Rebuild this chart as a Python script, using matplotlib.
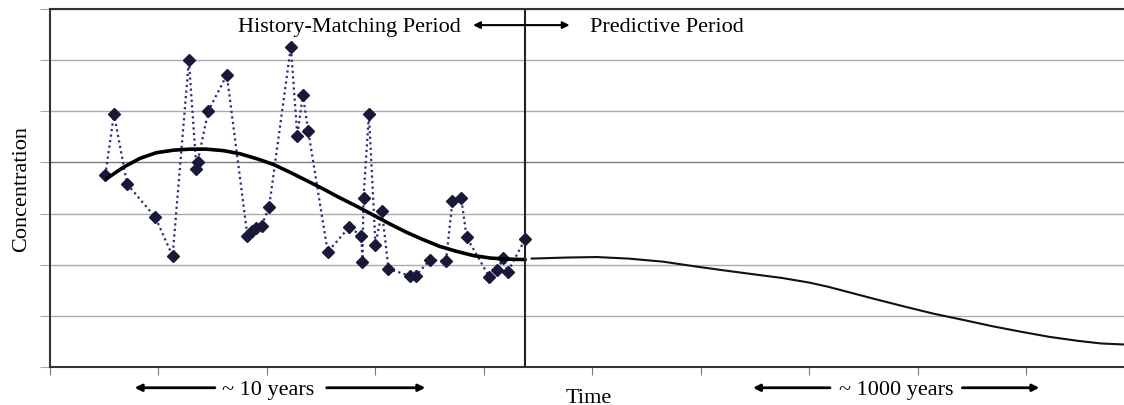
import numpy as np
import matplotlib.pyplot as plt

# measured concentrations (history-matching period)
obs_t = [0.51, 0.59, 0.71, 0.97, 1.13, 1.28, 1.35, 1.36, 1.46, 1.63,
         1.82, 1.86, 1.90, 1.95, 2.02, 2.22, 2.28, 2.33, 2.38, 2.56,
         2.76, 2.87, 2.88, 2.89, 2.94, 3.00, 3.06, 3.12, 3.32, 3.37,
         3.50, 3.65, 3.71, 3.79, 3.84, 4.05, 4.12, 4.18, 4.22, 4.38]
obs_c = [3.75, 4.95, 3.58, 2.93, 2.17, 6.00, 3.87, 4.01, 5.01, 5.71,
         2.56, 2.66, 2.72, 2.76, 3.13, 6.26, 4.52, 5.32, 4.62, 2.25,
         2.74, 2.56, 2.05, 3.31, 4.95, 2.39, 3.05, 1.92, 1.78, 1.78,
         2.09, 2.07, 3.25, 3.31, 2.54, 1.76, 1.90, 2.13, 1.86, 2.50]

# fitted model over history period
fit_t = [0.52, 0.68, 0.83, 0.98, 1.14, 1.29, 1.44, 1.60, 1.75, 1.91, 2.06, 2.21, 2.37,
         2.52, 2.67, 2.83, 2.98, 3.13, 3.29, 3.44, 3.59, 3.75, 3.90, 4.06, 4.21, 4.38]
fit_c = [3.68, 3.91, 4.08, 4.19, 4.24, 4.26, 4.26, 4.23, 4.17, 4.07, 3.96, 3.81, 3.64,
         3.48, 3.31, 3.14, 2.97, 2.80, 2.63, 2.49, 2.36, 2.26, 2.18, 2.13, 2.11, 2.10]

# model prediction
pred_t = [4.44, 4.76, 5.04, 5.33, 5.65, 5.97, 6.21, 6.46, 6.75, 7.00, 7.17,
          7.35, 7.62, 7.88, 8.15, 8.42, 8.68, 8.95, 9.21, 9.48, 9.69, 9.90]
pred_c = [2.12, 2.14, 2.15, 2.12, 2.06, 1.96, 1.89, 1.82, 1.74, 1.65, 1.57,
          1.47, 1.32, 1.18, 1.04, 0.92, 0.80, 0.69, 0.59, 0.51, 0.46, 0.44]

split_t = 4.38

plt.rcParams['font.family'] = ['Liberation Serif', 'DejaVu Serif']

fig = plt.figure(figsize=(11.24, 4.06), dpi=100)
ax = fig.add_axes([50/1124, 38/406, 1074/1124, 358/406])

ax.plot(obs_t, obs_c, linestyle=(0, (1, 1.5)), color='#2c2c78', lw=1.6,
        marker='D', markersize=6.5, markerfacecolor='#181838', markeredgecolor='#181838')
ax.plot(fit_t, fit_c, color='black', lw=2.6, solid_capstyle='round')
ax.plot(pred_t, pred_c, color='#111111', lw=1.5)
ax.axvline(split_t, color='#222222', lw=1.5)

ax.set_xlim(0, 9.9)
ax.set_ylim(0, 7)
ax.set_xticks(np.arange(0, 10))
ax.set_yticks(np.arange(0, 8))
ax.set_xticklabels([])
ax.set_yticklabels([])
ax.grid(axis='y', color='#aaaab2', lw=1.0)
ax.get_ygridlines()[4].set_color('#7a7a82')
ax.set_axisbelow(True)
ax.tick_params(axis='x', length=6, direction='out', color='#777777')
ax.tick_params(axis='y', length=7, direction='out', color='#aaaab2')
for s in ['left', 'top', 'bottom']:
    ax.spines[s].set_color('#333333')
    ax.spines[s].set_linewidth(1.5)
ax.spines['right'].set_visible(False)

ax.set_ylabel('Concentration', fontsize=16, labelpad=3)

tr = ('data', 'axes fraction')
fs = 16
# header
ax.text(3.79, 0.95, 'History-Matching Period', fontsize=fs, ha='right', va='center',
        transform=ax.get_xaxis_transform())
ax.text(4.98, 0.95, 'Predictive Period', fontsize=fs, ha='left', va='center',
        transform=ax.get_xaxis_transform())
ax.annotate('', xy=(3.90, 0.955), xytext=(4.79, 0.955), xycoords=tr, textcoords=tr,
            arrowprops=dict(arrowstyle='<|-|>', color='black', lw=1.5,
                            mutation_scale=10, shrinkA=0, shrinkB=0))

# bottom annotations
def span(x0, x1, xt, label):
    ax.annotate('', xy=(x0, -0.058), xytext=(x1, -0.058), xycoords=tr, textcoords=tr,
                arrowprops=dict(arrowstyle='-|>', color='black', lw=2,
                                mutation_scale=10, shrinkA=0, shrinkB=0),
                annotation_clip=False)
    ax.text(xt, -0.064, label, fontsize=fs, ha='center', va='center',
            transform=ax.get_xaxis_transform(), clip_on=False)

span(0.78, 1.52, 2.01, '')
span(3.46, 2.55, 2.01, '~ 10 years')
span(6.48, 7.19, 7.80, '')
span(9.12, 8.41, 7.80, '~ 1000 years')
ax.text(4.97, -0.085, 'Time', fontsize=fs, ha='center', va='center',
        transform=ax.get_xaxis_transform(), clip_on=False)

fig.savefig('out.png', dpi=100)
